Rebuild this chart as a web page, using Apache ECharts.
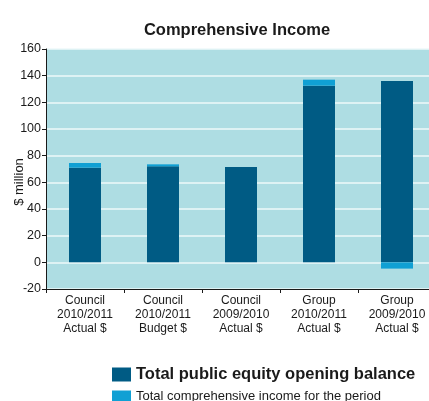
<!DOCTYPE html>
<html>
<head>
<meta charset="utf-8">
<script src="https://cdn.jsdelivr.net/npm/echarts@6/dist/echarts.min.js"></script>
<style>
  html, body { margin: 0; padding: 0; background: #fff; }
  #chart { width: 429px; height: 401px; }
</style>
</head>
<body>
<div id="chart"></div>
<script>
  // categories along the x axis
  const categories = [
    'Council\n2010/2011\nActual $',
    'Council\n2010/2011\nBudget $',
    'Council\n2009/2010\nActual $',
    'Group\n2010/2011\nActual $',
    'Group\n2009/2010\nActual $'
  ]
  // opening balance ($ million)
  const openingBalance = [71, 72, 71.5, 132.5, 136]
  // comprehensive income for the period ($ million)
  const comprehensiveIncome = [3.5, 1.5, 0, 4.5, -4.7]
  const yTicks = { min: -20, max: 160, interval: 20 }

  const chart = echarts.init(document.getElementById('chart'))

  const option = {
    animation: false,
    title: {
      text: 'Comprehensive Income',
      left: 232,
      top: 17,
      textAlign: 'center',
      textStyle: {
        fontFamily: 'Liberation Sans',
        fontSize: 16.5,
        fontWeight: 'bold',
        color: '#1a1a1a'
      }
    },
    legend: [
      {
        data: ['Total public equity opening balance'],
        left: 107,
        top: 361,
        itemWidth: 19,
        itemHeight: 14,
        itemGap: 10,
        icon: 'rect',
        textStyle: {
          fontFamily: 'Liberation Sans',
          fontSize: 16.5,
          fontWeight: 'bold',
          color: '#1a1a1a'
        }
      },
      {
        data: ['Total comprehensive income for the period'],
        left: 107,
        top: 385,
        itemWidth: 19,
        itemHeight: 12,
        icon: 'rect',
        textStyle: {
          fontFamily: 'Liberation Sans',
          fontSize: 13,
          color: '#1a1a1a'
        }
      }
    ],
    grid: {
      left: 46,
      top: 49,
      width: 390,
      height: 240,
      outerBoundsMode: 'none',
      containLabel: false,
      show: true,
      backgroundColor: '#aedde3',
      borderWidth: 0
    },
    xAxis: {
      type: 'category',
      data: categories,
      axisLine: { onZero: false, lineStyle: { color: '#1a1a1a', width: 1 } },
      axisTick: { show: true, length: 4, lineStyle: { color: '#1a1a1a' } },
      axisLabel: {
        interval: 0,
        fontFamily: 'Liberation Sans',
        fontSize: 12,
        lineHeight: 14,
        color: '#1a1a1a',
        margin: 5
      }
    },
    yAxis: {
      type: 'value',
      min: yTicks.min,
      max: yTicks.max,
      interval: yTicks.interval,
      name: '$ million',
      nameLocation: 'middle',
      nameGap: 20,
      nameMoveOverlap: false,
      nameRotate: 90,
      nameTextStyle: {
        fontFamily: 'Liberation Sans',
        fontSize: 13,
        color: '#1a1a1a',
        padding: [0, 26, 0, 0]
      },
      axisLine: { show: true, lineStyle: { color: '#1a1a1a', width: 1 } },
      axisTick: { show: true, length: 4, lineStyle: { color: '#1a1a1a' } },
      axisLabel: {
        fontFamily: 'Liberation Sans',
        fontSize: 12.5,
        color: '#1a1a1a',
        margin: 5
      },
      splitLine: { lineStyle: { color: '#eef8fa', width: 1.5 } }
    },
    series: [
      {
        name: 'Total public equity opening balance',
        type: 'bar',
        stack: 'total',
        data: openingBalance,
        barWidth: 32,
        itemStyle: { color: '#005b84' }
      },
      {
        name: 'Total comprehensive income for the period',
        type: 'bar',
        stack: 'total',
        data: comprehensiveIncome,
        barWidth: 32,
        itemStyle: { color: '#10a0d4' }
      }
    ]
  }

  chart.setOption(option)
</script>
</body>
</html>
